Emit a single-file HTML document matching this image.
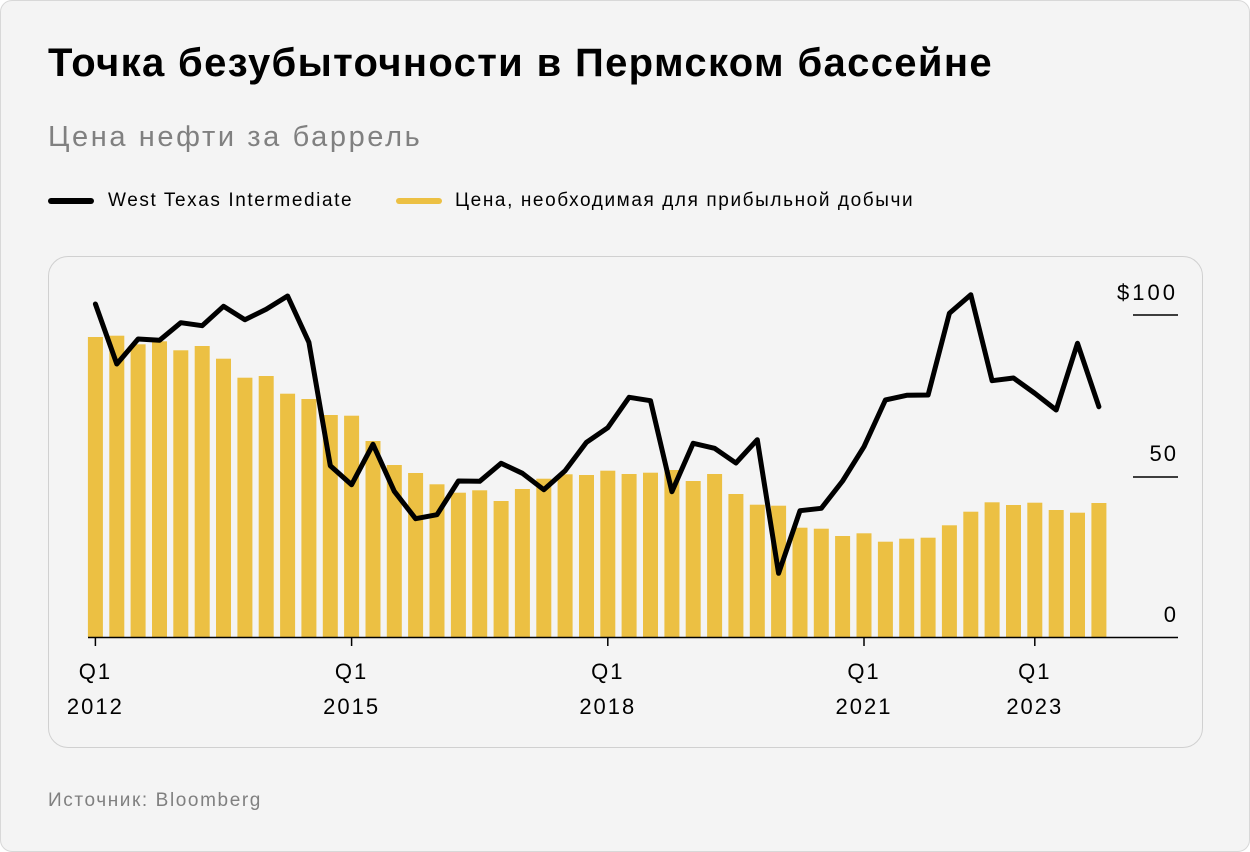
<!DOCTYPE html>
<html><head><meta charset="utf-8"><style>
html,body{margin:0;padding:0;background:#fff;}
body{width:1250px;height:852px;overflow:hidden;font-family:"Liberation Sans","DejaVu Sans",sans-serif;}
.card{position:absolute;left:0;top:0;width:1248px;height:850px;background:#f4f4f4;border:1px solid #d8d8d8;border-radius:12px;}
.t{position:absolute;white-space:nowrap;}
</style></head><body>
<div class="card"></div>
<div class="t" style="left:48px;top:41px;font-size:40px;font-weight:bold;color:#000;letter-spacing:1.35px;">Точка безубыточности в Пермском бассейне</div>
<div class="t" style="left:48px;top:121px;font-size:29px;color:#808080;letter-spacing:2.6px;">Цена нефти за баррель</div>
<div style="position:absolute;left:48px;top:198px;width:46px;height:6px;background:#000;border-radius:3px;"></div>
<div class="t" style="left:108px;top:190px;font-size:19px;color:#000;letter-spacing:1.6px;">West Texas Intermediate</div>
<div style="position:absolute;left:396px;top:198px;width:46px;height:6px;background:#ecc043;border-radius:3px;"></div>
<div class="t" style="left:455px;top:190px;font-size:19px;color:#000;letter-spacing:1.6px;">Цена, необходимая для прибыльной добычи</div>
<div style="position:absolute;left:48px;top:256px;width:1153px;height:490px;border:1px solid #d0d0d0;border-radius:20px;background:#f4f4f4;"></div>
<svg style="position:absolute;left:0;top:0" width="1250" height="852">
<g fill="#ecc043" id="bars"></g>
<line x1="88" y1="637.5" x2="1178" y2="637.5" stroke="#000" stroke-width="1.5"/>
<g stroke="#000" stroke-width="1.5">
<line x1="95.4" y1="637" x2="95.4" y2="646"/><line x1="351.6" y1="637" x2="351.6" y2="646"/><line x1="607.8" y1="637" x2="607.8" y2="646"/><line x1="864" y1="637" x2="864" y2="646"/><line x1="1034.8" y1="637" x2="1034.8" y2="646"/>
<line x1="1133" y1="315" x2="1178" y2="315"/><line x1="1133" y1="477" x2="1178" y2="477"/>
</g>
<polyline id="ln" fill="none" stroke="#000" stroke-width="5" stroke-linejoin="round" stroke-linecap="round" points=""/>
<g font-family="Liberation Sans, sans-serif" font-size="22" fill="#000" letter-spacing="2">
<text x="1178" y="300" text-anchor="end" letter-spacing="3">$100</text>
<text x="1178" y="461" text-anchor="end">50</text>
<text x="1178" y="622" text-anchor="end">0</text>
<g text-anchor="middle">
<text x="95.4" y="679">Q1</text><text x="95.4" y="714">2012</text>
<text x="351.6" y="679">Q1</text><text x="351.6" y="714">2015</text>
<text x="607.8" y="679">Q1</text><text x="607.8" y="714">2018</text>
<text x="864" y="679">Q1</text><text x="864" y="714">2021</text>
<text x="1034.8" y="679">Q1</text><text x="1034.8" y="714">2023</text>
</g></g>
</svg>
<div class="t" style="left:48px;top:790px;font-size:19px;color:#808080;letter-spacing:1.6px;">Источник: Bloomberg</div>
<script>
var b=[337,335.7,344.3,341.3,350.3,346,358.7,377.7,376,393.7,399,415,415.7,441,465,473,484.3,492.7,490.3,501,489,478.7,474.3,475,470.7,474,472.7,470,481,474,494,504.7,505.7,527.7,528.7,536,533.3,541.7,538.7,537.7,525.3,511.7,502.3,505,502.7,510,512.7,503];
var l=[304,364,339,340.3,322.7,325.7,306.3,319.7,309.3,296,342.3,465.7,484.7,444.3,491.3,518.7,514.7,481,481.3,463.3,473.3,489.7,470.7,442.3,427.7,397.3,400.7,491.7,443.3,448.3,463,439.7,573.3,510.7,508.3,481,446.7,400,395.3,395,313.3,294.7,380.7,378,393.3,410,343.3,406.7];
var g=document.getElementById('bars'),s='',p=[];
for(var i=0;i<48;i++){var x=87.9+i*21.35;s+='<rect x="'+x.toFixed(1)+'" y="'+b[i]+'" width="15" height="'+(637-b[i]).toFixed(1)+'"/>';p.push((x+7.5).toFixed(1)+','+l[i]);}
g.innerHTML=s;document.getElementById('ln').setAttribute('points',p.join(' '));
</script>
</body></html>
